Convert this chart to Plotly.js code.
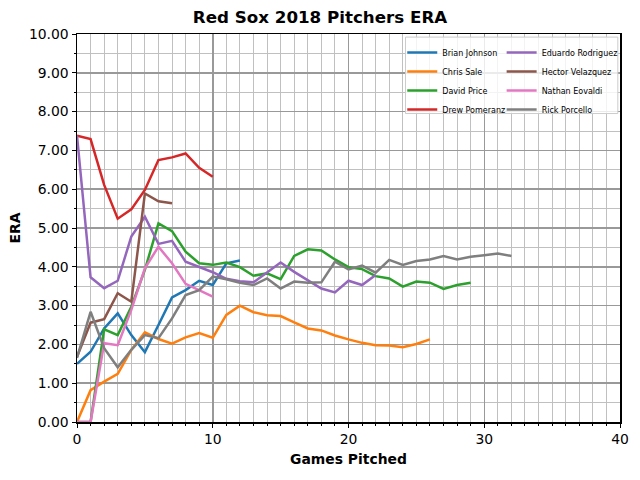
<!DOCTYPE html>
<html>
<head>
<meta charset="utf-8">
<script src="https://cdn.plot.ly/plotly-3.0.1.min.js"></script>
<style>html,body{margin:0;padding:0;background:#fff;}#chart{width:640px;height:480px;}</style>
</head>
<body>
<div id="chart"></div>
<script>
const pitchers = ["Brian Johnson","Chris Sale","David Price","Drew Pomeranz","Eduardo Rodriguez","Hector Velazquez","Nathan Eovaldi","Rick Porcello"];
const brianJohnson = [1.50, 1.81, 2.41, 2.80, 2.24, 1.80, 2.50, 3.21, 3.40, 3.64, 3.53, 4.09, 4.16];
const chrisSale = [0.00, 0.82, 1.04, 1.24, 1.86, 2.31, 2.14, 2.02, 2.18, 2.29, 2.17, 2.76, 3.00, 2.83, 2.75, 2.73, 2.57, 2.41, 2.36, 2.23, 2.13, 2.04, 1.98, 1.97, 1.93, 2.01, 2.13];
const davidPrice = [0.00, 0.00, 2.39, 2.24, 2.97, 3.92, 5.12, 4.92, 4.39, 4.09, 4.05, 4.11, 3.99, 3.77, 3.83, 3.68, 4.28, 4.45, 4.42, 4.19, 3.99, 3.94, 3.76, 3.70, 3.49, 3.62, 3.59, 3.43, 3.53, 3.59];
const drewPomeranz = [7.38, 7.29, 6.11, 5.24, 5.48, 5.98, 6.75, 6.82, 6.92, 6.55, 6.32];
const eduardoRodriguez = [7.38, 3.73, 3.45, 3.64, 4.78, 5.29, 4.59, 4.67, 4.13, 4.00, 3.86, 3.69, 3.63, 3.60, 3.85, 4.11, 3.87, 3.66, 3.44, 3.34, 3.64, 3.53, 3.79];
const hectorVelazquez = [1.68, 2.56, 2.65, 3.32, 3.10, 5.89, 5.69, 5.64];
const nathanEovaldi = [0.00, 0.00, 2.03, 1.98, 2.89, 3.96, 4.52, 4.09, 3.56, 3.40, 3.23];
const rickPorcello = [1.65, 2.84, 1.90, 1.41, 1.86, 2.24, 2.16, 2.67, 3.27, 3.40, 3.75, 3.68, 3.59, 3.53, 3.70, 3.44, 3.62, 3.59, 3.60, 4.13, 3.93, 4.03, 3.85, 4.18, 4.05, 4.15, 4.19, 4.28, 4.19, 4.26, 4.30, 4.34, 4.28];
const colors = ["#1f77b4","#ff7f0e","#2ca02c","#d62728","#9467bd","#8c564b","#e377c2","#7f7f7f"];
const series = [brianJohnson, chrisSale, davidPrice, drewPomeranz, eduardoRodriguez, hectorVelazquez, nathanEovaldi, rickPorcello];

const FONT = "DejaVu Sans";
const traces = series.map((ys, i) => ({
  type: "scatter",
  mode: "lines",
  name: pitchers[i],
  x: ys.map((_, k) => k),
  y: ys,
  line: {color: colors[i], width: 2.5},
  legend: i < 4 ? "legend" : "legend2"
}));

const legendCommon = {
  yanchor: "top", xanchor: "left",
  bgcolor: "rgba(0,0,0,0)", borderwidth: 0,
  font: {family: FONT, size: 8, color: "#000"},
  itemwidth: 30, tracegroupgap: 0
};

const layout = {
  width: 640, height: 480,
  margin: {l: 77, r: 20, t: 34, b: 58},
  paper_bgcolor: "#fff", plot_bgcolor: "#fff",
  font: {family: FONT, color: "#000"},
  showlegend: true,
  title: {text: "<b>Red Sox 2018 Pitchers ERA</b>", font: {family: FONT, size: 16.7, color: "#000"},
          x: 0.5, xref: "container", y: 1 - 17/480, yref: "container", yanchor: "middle"},
  xaxis: {
    range: [0, 40], tick0: 0, dtick: 10,
    showgrid: true, gridcolor: "#999", gridwidth: 1.5,
    ticks: "outside", ticklen: 4, tickwidth: 1, tickcolor: "#000",
    tickfont: {family: FONT, size: 13.9, color: "#000"},
    showline: true, linecolor: "#000", linewidth: 1.5, mirror: true, zeroline: false,
    minor: {dtick: 1, showgrid: true, gridcolor: "#c0c0c0", gridwidth: 1, ticks: "outside", ticklen: 2, tickcolor: "#000"},
    title: {text: "<b>Games Pitched</b>", font: {family: FONT, size: 13.9, color: "#000"}, standoff: 8},
    automargin: false
  },
  yaxis: {
    range: [0, 10], tick0: 0, dtick: 1, tickformat: ".2f",
    showgrid: true, gridcolor: "#999", gridwidth: 1.5,
    ticks: "outside", ticklen: 4, tickwidth: 1, tickcolor: "#000",
    tickfont: {family: FONT, size: 13.9, color: "#000"},
    showline: true, linecolor: "#000", linewidth: 1.5, mirror: true, zeroline: false,
    minor: {dtick: 0.5, showgrid: true, gridcolor: "#c0c0c0", gridwidth: 1, ticks: "outside", ticklen: 2, tickcolor: "#000"},
    title: {text: "<b>ERA</b>", font: {family: FONT, size: 13.9, color: "#000"}, standoff: 5},
    automargin: false
  },
  legend: Object.assign({x: 0.599, y: 0.99}, legendCommon),
  legend2: Object.assign({x: 0.782, y: 0.99}, legendCommon),
  shapes: [{
    type: "rect", xref: "paper", yref: "paper", layer: "above",
    x0: 0.605, x1: 0.996, y0: 0.795, y1: 0.992,
    fillcolor: "rgba(255,255,255,0.8)", line: {color: "#cccccc", width: 1}
  }]
};

Plotly.newPlot("chart", traces, layout, {displayModeBar: false, staticPlot: true});
</script>
</body>
</html>
